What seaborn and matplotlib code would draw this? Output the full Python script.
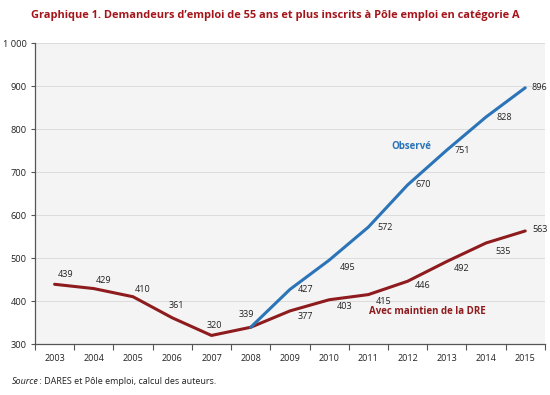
#!/usr/bin/env python3
"""
Demandeurs d'emploi de 55 ans et plus, catégorie A (Pôle emploi).
"""

import matplotlib
matplotlib.use("Agg")
import matplotlib.pyplot as plt
from matplotlib.ticker import FuncFormatter, MultipleLocator
import seaborn as sns
import pandas as pd

# Data (milliers)
years = list(range(2003, 2016))
dre_values = [439, 429, 410, 361, 320, 339, 377, 403, 415, 446, 492, 535, 563]
obs_years = list(range(2008, 2016))
obs_values = [339, 427, 495, 572, 670, 751, 828, 896]

# label offsets in points (dx, dy)
dre_offsets = [(8, 7), (7, 6), (7, 5), (3, 9), (2, 7), (-3, 9), (11, -4), (11, -5),
               (11, -5), (11, -3), (11, -5), (12, -6), (11, 1)]
obs_offsets = [None, (11, 0), (13, -5), (12, 0), (11, 0), (11, 0), (13, 0), (10, 0)]

RED = "#8e1b1d"
BLUE = "#2b74b7"
TITLE_RED = "#a3151a"

sns.set_theme(style="white")
plt.rcParams['font.family'] = ['Open Sans', 'DejaVu Sans']

df_dre = pd.DataFrame({'annee': years, 'valeur': dre_values})
df_obs = pd.DataFrame({'annee': obs_years, 'valeur': obs_values})

fig = plt.figure(figsize=(5.5, 3.95), dpi=100)
ax = fig.add_axes([0.0636, 0.129, 0.927, 0.762])
ax.set_facecolor("#f4f4f4")

sns.lineplot(data=df_dre, x='annee', y='valeur', color=RED, linewidth=2.2, ax=ax)
sns.lineplot(data=df_obs, x='annee', y='valeur', color=BLUE, linewidth=2.2, ax=ax)

for x, y, off in zip(years, dre_values, dre_offsets):
    ax.annotate(str(y), xy=(x, y), xytext=off, textcoords='offset points',
                ha='center', va='center', fontsize=6.5, color='#222222')
for x, y, off in zip(obs_years, obs_values, obs_offsets):
    if off is None:
        continue
    ax.annotate(str(y), xy=(x, y), xytext=off, textcoords='offset points',
                ha='center', va='center', fontsize=6.5, color='#222222')

ax.text(2012.1, 760, "Observé", color=BLUE, fontsize=7, fontweight='bold',
        ha='center', va='center')
ax.text(2012.5, 375, "Avec maintien de la DRE", color=RED, fontsize=7,
        fontweight='bold', ha='center', va='center')

ax.set_xlim(2002.5, 2015.5)
ax.set_ylim(300, 1000)
ax.set_xticks(years)
ax.xaxis.set_minor_locator(MultipleLocator(1, offset=0.5))
ax.tick_params(axis='x', which='major', length=0, pad=7, labelsize=6.5, colors='#222222')
ax.tick_params(axis='x', which='minor', length=4, width=0.8, color='#555555', direction='out',
               bottom=True)
ax.yaxis.set_major_locator(MultipleLocator(100))
ax.yaxis.set_major_formatter(FuncFormatter(lambda v, p: f"{int(v):,}".replace(",", " ")))
ax.tick_params(axis='y', which='major', length=3, width=0.8, direction='out',
               left=True, pad=3, labelsize=6.7, labelcolor='#222222', color='#555555')
ax.grid(axis='y', color='#dcdcdc', linewidth=0.7)
ax.set_axisbelow(True)
ax.set_xlabel("")
ax.set_ylabel("")

for side in ['top', 'right']:
    ax.spines[side].set_visible(False)
for side in ['left', 'bottom']:
    ax.spines[side].set_color('#555555')
    ax.spines[side].set_linewidth(0.9)

fig.text(0.5, 0.962, "Graphique 1. Demandeurs d\u2019emploi de 55 ans et plus inscrits à Pôle emploi en catégorie A",
         ha='center', va='center', fontsize=7.9, fontweight='bold', color=TITLE_RED)
fig.text(0.022, 0.033, "Source", ha='left', va='center', fontsize=6.5, style='italic',
         color='#222222')
fig.text(0.068, 0.033, " : DARES et Pôle emploi, calcul des auteurs.", ha='left', va='center',
         fontsize=6.5, color='#222222')

fig.savefig("out.png", dpi=100)
